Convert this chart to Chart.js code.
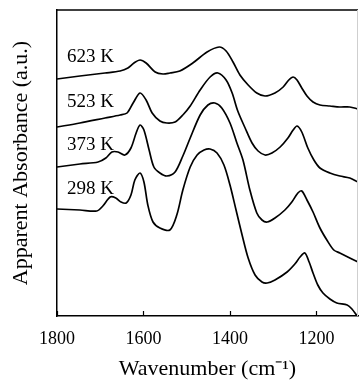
<!DOCTYPE html>
<html>
<head>
<meta charset="utf-8">
<script src="https://cdn.jsdelivr.net/npm/chart.js@4/dist/chart.umd.min.js"></script>
<style>
  html, body { margin: 0; padding: 0; background: #fff; }
  #c { display: block; }
</style>
</head>
<body>
<canvas id="c" width="359" height="381"></canvas>
<script>
// ---- Data ----
const wn623  = [1800,1747,1689,1654,1636,1622,1608,1594,1573,1555,1539,1516,1486,1453,1425,1409,1393,1377,1358,1338,1319,1296,1277,1264,1254,1245,1234,1222,1208,1192,1169,1146,1123,1104];
const abs623 = [2.37,2.40,2.43,2.45,2.48,2.53,2.56,2.53,2.44,2.42,2.43,2.45,2.53,2.64,2.69,2.65,2.54,2.41,2.31,2.23,2.20,2.23,2.29,2.36,2.39,2.36,2.28,2.20,2.14,2.11,2.10,2.09,2.09,2.07];

const wn523  = [1800,1747,1689,1654,1638,1624,1608,1594,1580,1562,1546,1527,1509,1492,1469,1446,1428,1409,1395,1382,1365,1349,1335,1319,1303,1284,1266,1254,1245,1234,1220,1206,1192,1169,1146,1123,1104];
const abs523 = [1.89,1.93,1.98,2.01,2.03,2.13,2.23,2.16,2.03,1.95,1.93,1.94,2.01,2.10,2.26,2.39,2.43,2.36,2.23,2.05,1.88,1.73,1.65,1.61,1.63,1.69,1.78,1.86,1.90,1.84,1.68,1.56,1.48,1.43,1.40,1.38,1.34];

const wn373  = [1800,1747,1705,1687,1673,1659,1643,1629,1617,1608,1599,1587,1576,1562,1546,1527,1509,1492,1469,1451,1435,1419,1400,1384,1370,1354,1338,1326,1314,1296,1273,1257,1243,1234,1222,1208,1192,1176,1160,1146,1123,1104];
const abs373 = [1.49,1.52,1.54,1.58,1.64,1.64,1.61,1.68,1.83,1.91,1.86,1.66,1.49,1.43,1.40,1.44,1.60,1.78,2.01,2.11,2.13,2.08,1.93,1.73,1.56,1.26,1.03,0.96,0.94,0.98,1.06,1.14,1.23,1.25,1.16,1.04,0.88,0.76,0.66,0.63,0.58,0.54];

const wn298  = [1800,1747,1708,1694,1677,1664,1652,1640,1629,1620,1608,1599,1590,1578,1562,1539,1523,1509,1492,1476,1460,1446,1430,1414,1400,1386,1372,1358,1342,1326,1314,1296,1268,1250,1238,1227,1217,1208,1197,1185,1169,1153,1129,1118,1106];
const abs298 = [1.07,1.06,1.05,1.10,1.19,1.18,1.14,1.13,1.21,1.36,1.43,1.34,1.11,0.94,0.88,0.86,1.01,1.26,1.49,1.61,1.66,1.67,1.63,1.51,1.31,1.06,0.81,0.58,0.41,0.34,0.33,0.36,0.44,0.52,0.59,0.63,0.54,0.43,0.31,0.23,0.17,0.13,0.11,0.07,0.00];

const seriesLabels = ["623 K", "523 K", "373 K", "298 K"];
const labelWn  = [1777, 1777, 1777, 1777];
const labelAbs = [2.59, 2.14, 1.71, 1.27];
const xTicks = [1800, 1600, 1400, 1200];

// ---- Build ----
const toPts = (xs, ys) => xs.map((x, i) => ({x: x, y: ys[i]}));
const lineStyle = {
  borderColor: '#000', borderWidth: 1.7, pointRadius: 0, fill: false,
  tension: 0.3
};
const datasets = [
  Object.assign({label: seriesLabels[0], data: toPts(wn623, abs623)}, lineStyle),
  Object.assign({label: seriesLabels[1], data: toPts(wn523, abs523)}, lineStyle),
  Object.assign({label: seriesLabels[2], data: toPts(wn373, abs373)}, lineStyle),
  Object.assign({label: seriesLabels[3], data: toPts(wn298, abs298)}, lineStyle)
];

const SERIF = "'Liberation Serif', 'Times New Roman', serif";

const decor = {
  id: 'decor',
  afterDraw(chart) {
    const {ctx, chartArea: a, scales: {x, y}} = chart;
    ctx.save();
    // top border
    ctx.strokeStyle = '#000';
    ctx.lineWidth = 1.5;
    ctx.beginPath();
    ctx.moveTo(a.left, a.top); ctx.lineTo(a.right, a.top);
    ctx.stroke();
    // faint right border
    ctx.strokeStyle = '#cfcfcf';
    ctx.lineWidth = 1;
    ctx.beginPath();
    ctx.moveTo(a.right - 0.5, a.top); ctx.lineTo(a.right - 0.5, a.bottom);
    ctx.stroke();
    // inward major ticks on bottom axis
    ctx.strokeStyle = '#000';
    ctx.lineWidth = 1.2;
    xTicks.forEach(v => {
      const px = Math.round(x.getPixelForValue(v)) + 0.5;
      ctx.beginPath();
      ctx.moveTo(px, a.bottom); ctx.lineTo(px, a.bottom - 5);
      ctx.stroke();
    });
    // series labels
    ctx.fillStyle = '#000';
    ctx.font = "19px " + SERIF;
    ctx.textAlign = 'left';
    ctx.textBaseline = 'middle';
    seriesLabels.forEach((t, i) => {
      ctx.fillText(t, x.getPixelForValue(labelWn[i]), y.getPixelForValue(labelAbs[i]));
    });
    ctx.restore();
  }
};

new Chart(document.getElementById('c'), {
  type: 'line',
  data: {datasets},
  options: {
    responsive: false,
    devicePixelRatio: 1,
    animation: false,
    layout: {padding: {top: 10, right: 1, left: 0, bottom: 0}},
    plugins: {legend: {display: false}, tooltip: {enabled: false}},
    scales: {
      x: {
        type: 'linear', reverse: true, min: 1104, max: 1800,
        grid: {display: false, drawTicks: false},
        border: {display: true, color: '#000', width: 1.5},
        ticks: {
          stepSize: 200, includeBounds: false, autoSkip: false, maxRotation: 0,
          color: '#000', font: {family: SERIF, size: 18}, padding: 12,
          callback: v => String(v)
        },
        title: {
          display: true, text: 'Wavenumber (cm\u207B\u00B9)', color: '#000',
          font: {family: SERIF, size: 22, lineHeight: 1}, padding: {top: 0, bottom: 1}
        },
        afterFit: s => { s.height = 65; }
      },
      y: {
        min: 0, max: 3.06,
        grid: {display: false, drawTicks: false},
        border: {display: true, color: '#000', width: 1.5},
        ticks: {display: false},
        title: {
          display: true, text: 'Apparent Absorbance (a.u.)', color: '#000',
          font: {family: SERIF, size: 22, lineHeight: 1}, padding: {top: 10, bottom: 0}
        },
        afterFit: s => { s.width = 57; }
      }
    }
  },
  plugins: [decor]
});
</script>
</body>
</html>
